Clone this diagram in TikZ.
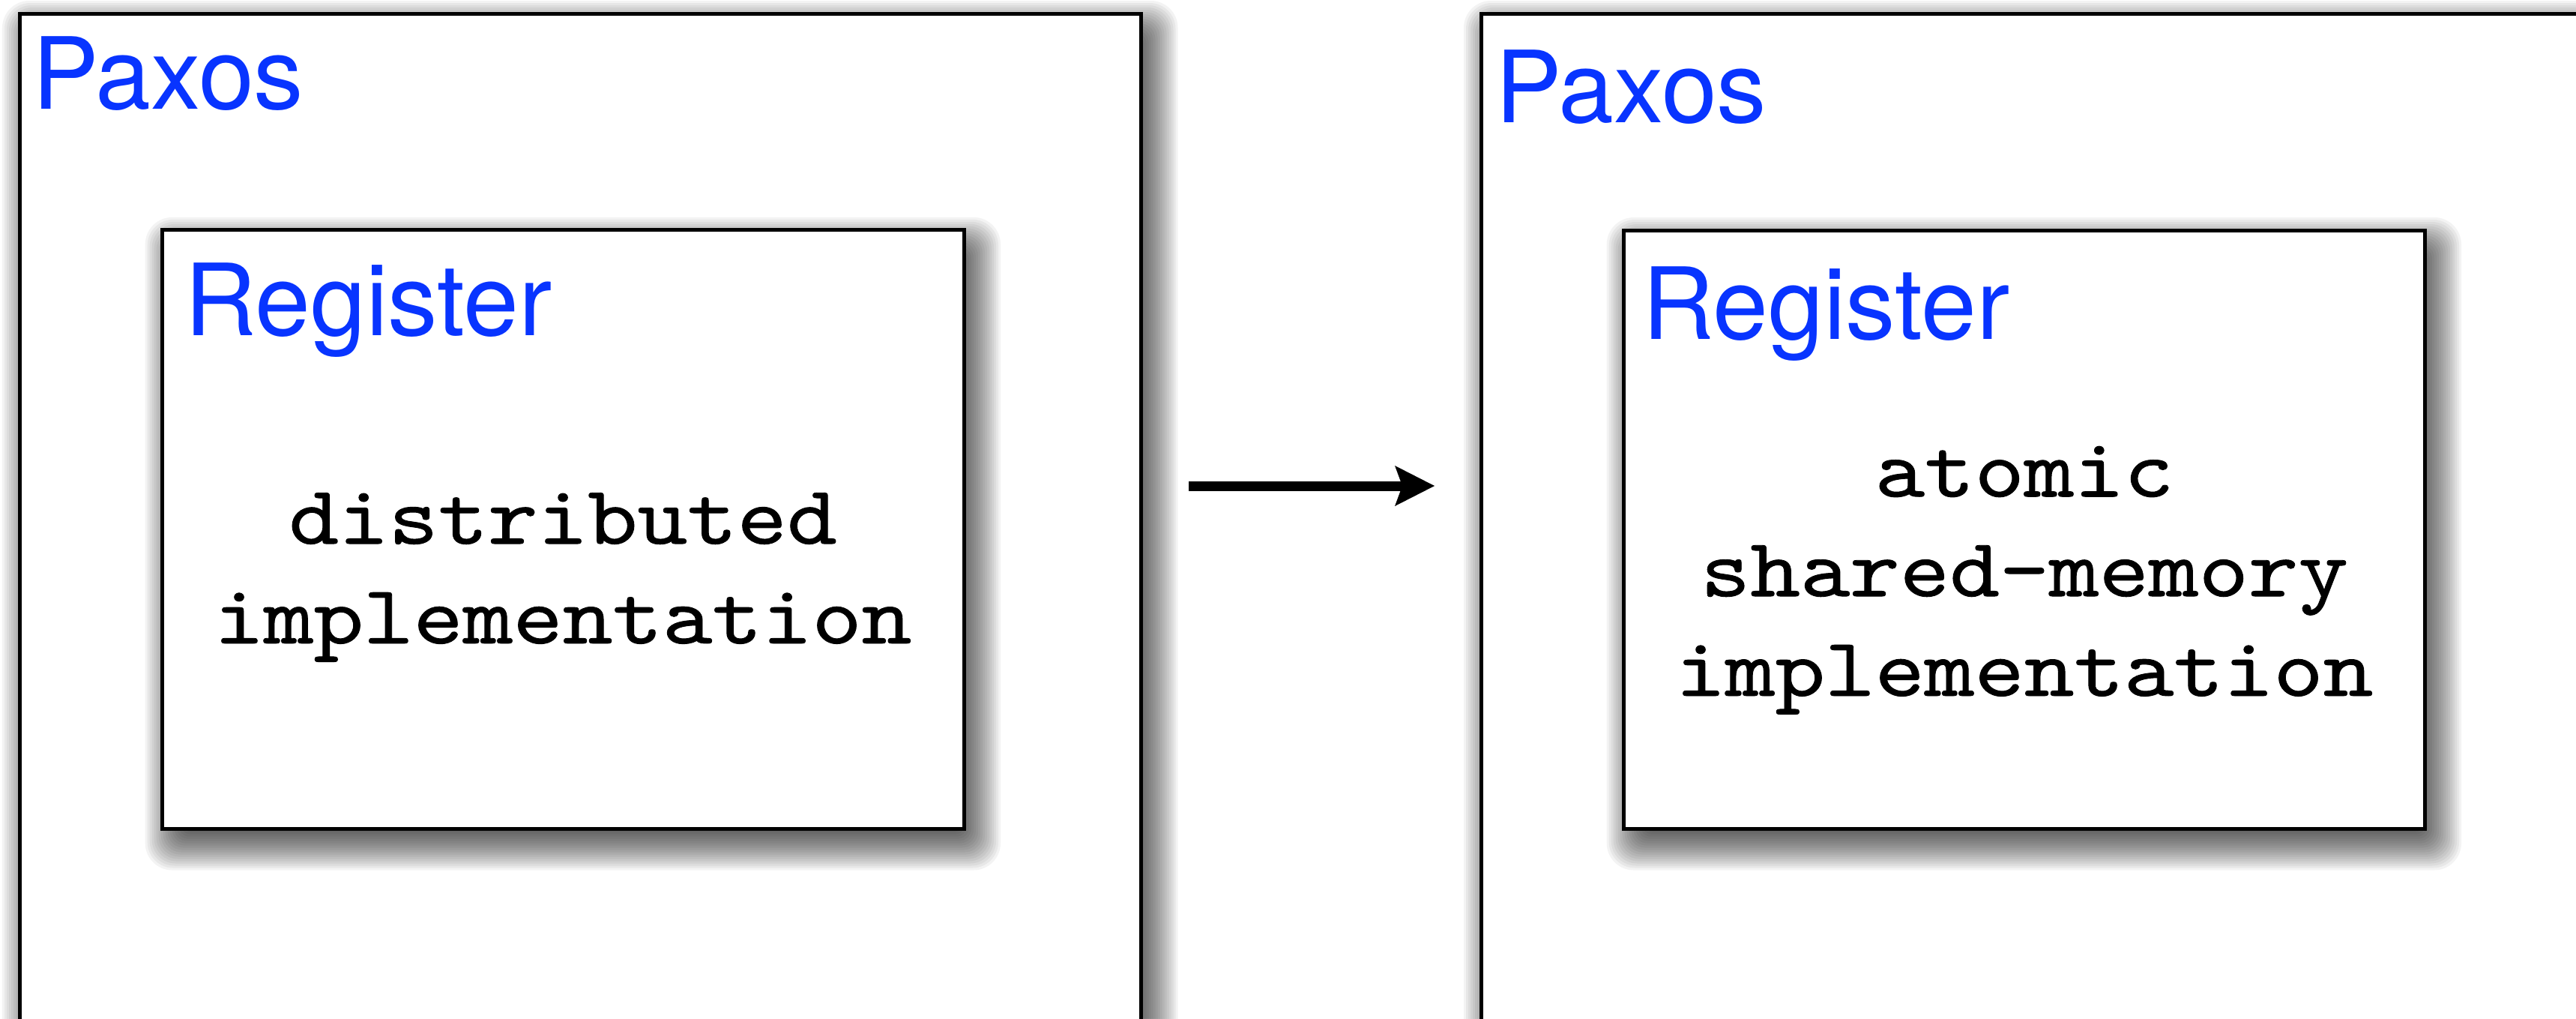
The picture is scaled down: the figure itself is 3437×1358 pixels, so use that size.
\documentclass[tikz,border=0pt]{standalone}
\usepackage{fontspec}
\usetikzlibrary{arrows.meta}
\newfontfamily\headfont{TeX Gyre Heros}
\newfontfamily\codefont{lmmono10-regular.otf}[FakeStretch=1.14,FakeBold=0.8]
\definecolor{titleblue}{RGB}{8,52,255}
\tikzset{
  panel/.style={draw=black, line width=0.5mm, fill=white, anchor=north west,
                inner sep=0pt, outer sep=0pt},
  title/.style={font=\headfont\fontsize{37.8}{45}\selectfont, text=titleblue,
                inner sep=0pt, anchor=base west},
  code/.style={font=\codefont\fontsize{31.6}{37.8}\selectfont, align=center,
               inner sep=0pt, anchor=base},
  flow/.style={line width=1.3mm,
               -{Stealth[length=5.3mm, width=5.4mm, inset=1mm, line width=0pt]}},
  haze/.style={fill=black, fill opacity=0.047},
}
% soft drop shadow: stacked translucent rounded rectangles, offset down-right
\newcommand\panelshadow[4]{%
  \foreach \e [evaluate=\e as \rr using {max(0.05*(\e+36),0.01)}] in {-36,-33,...,36}{%
    \fill[haze, rounded corners=\rr mm]
      ({#1+13-(\e)},{#2+19-(\e)}) rectangle ({#3+13+(\e)},{#4+19+(\e)});
  }%
}
\begin{document}
\begin{tikzpicture}[x=0.1mm, y=-0.1mm]
\useasboundingbox (0,0) rectangle (3437,1358);
\clip (0,0) rectangle (3437,1358);
\fill[white] (0,0) rectangle (3437,1358);

% outer Paxos panels
\panelshadow{26}{18}{1522.5}{1400}
\panelshadow{1976}{18}{3472.5}{1400}
\node[panel, minimum width=149.65mm, minimum height=138.2mm] (paxosA) at (26,18) {};
\node[panel, minimum width=149.65mm, minimum height=138.2mm] (paxosB) at (1976,18) {};

% inner Register panels
\panelshadow{216.7}{306.8}{1286}{1105.5}
\panelshadow{2166.7}{307}{3235}{1105.5}
\node[panel, minimum width=106.93mm, minimum height=79.87mm] (regA) at (216.7,306.8) {};
\node[panel, minimum width=106.83mm, minimum height=79.85mm] (regB) at (2166.7,307) {};

% titles
\node[title] (paxosAt) at (42.6,145) {Paxos};
\node[title] (paxosBt) at (1994.6,163) {Paxos};
\node[title] (regAt) at (245.3,447) {Register};
\node[title] (regBt) at (2190.3,452) {Register};

% register implementations (anchored on the last line's baseline)
\node[code] (implA) at (751,858) {distributed\\implementation};
\node[code] (implB) at (2701,928) {atomic\\shared-memory\\implementation};

% transformation arrow
\coordinate (flowS) at (1586,648);
\coordinate (flowE) at (1914,648);
\draw[flow] (flowS) -- (flowE);
\end{tikzpicture}
\end{document}
